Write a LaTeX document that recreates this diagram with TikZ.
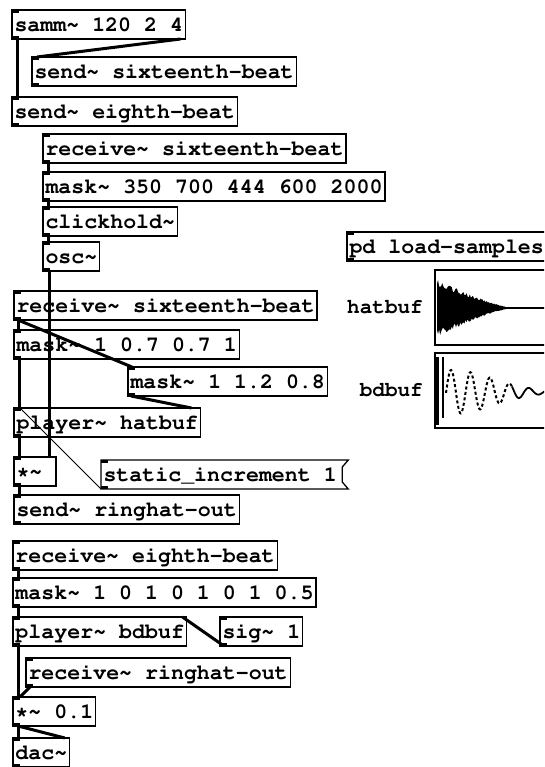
\documentclass[tikz,border=0pt]{standalone}
\usepackage[T1]{fontenc}
\usepackage{tikz}
\usetikzlibrary{positioning}
\definecolor{pdink}{RGB}{0,0,0}
\newcommand{\pdt}{\textasciitilde}
\newcommand{\pdboxfont}{\fontfamily{pcr}\fontseries{b}\fontsize{21.6}{24}\selectfont}
\newcommand{\pdlabelfont}{\fontfamily{pcr}\fontseries{b}\fontsize{21}{24}\selectfont}

\begin{document}
\begin{tikzpicture}[
    x=1pt, y=-1pt,
    obj/.style={rectangle, draw=pdink, line width=1.3pt, anchor=north west,
                font=\pdboxfont, inner xsep=2.5pt, inner ysep=0pt, outer sep=0pt,
                text height=17pt, text depth=3pt, minimum height=29pt,
                path picture={
                  \fill[pdink] (path picture bounding box.north west) rectangle ++(7pt,-3pt);
                  \fill[pdink] (path picture bounding box.south west) rectangle ++(7pt,3pt);}},
    msg/.style={obj, draw=none},
    wide/.style={text width=#1, align=left},
    graph/.style={rectangle, draw=pdink, line width=1.3pt, anchor=north west,
                  minimum width=125pt, minimum height=75pt, inner sep=0pt, outer sep=0pt},
    lbl/.style={font=\pdlabelfont, inner sep=0pt, text=pdink},
    sigw/.style={line width=3pt, color=pdink},
    ctlw/.style={line width=0.8pt, color=pdink}
  ]
    \useasboundingbox (0,0) rectangle (544,767);
    \clip (0,0) rectangle (544,767);

    \node[obj] (samm)     at (12,10)   {samm\pdt{} 120 2 4};
    \node[obj] (send16)   at (32,57)   {send\pdt{} sixteenth-beat};
    \node[obj] (send8)    at (12,97)   {send\pdt{} eighth-beat};
    \node[obj] (recv16)   at (43,134)  {receive\pdt{} sixteenth-beat};
    \node[obj] (freqmask) at (43,172)  {mask\pdt{} 350 700 444 600 2000};
    \node[obj] (click)    at (43,207)  {clickhold\pdt{}};
    \node[obj] (osc)      at (43,242)  {osc\pdt{}};
    \node[obj] (loader)   at (347,232) {pd load-samples};
    \node[obj] (hatrecv)  at (14,291)  {receive\pdt{} sixteenth-beat};
    \node[obj] (ampmask)  at (14,330)  {mask\pdt{} 1 0.7 0.7 1};
    \node[obj] (ratemask) at (128,367) {mask\pdt{} 1 1.2 0.8};
    \node[obj] (hatplay)  at (14,408)  {player\pdt{} hatbuf};
    \node[obj, wide=37pt] (ringmul) at (14,457) {*\pdt{}};
    \node[msg] (incr)     at (101,460) {static\_increment 1};
    \node[obj] (ringsend) at (14,495)  {send\pdt{} ringhat-out};
    \node[obj] (bdrecv)   at (13,541)  {receive\pdt{} eighth-beat};
    \node[obj] (bdmask)   at (13,578)  {mask\pdt{} 1 0 1 0 1 0 1 0.5};
    \node[obj] (bdplay)   at (13,617)  {player\pdt{} bdbuf};
    \node[obj] (rate)     at (220,617) {sig\pdt{} 1};
    \node[obj] (ringrecv) at (26,658)  {receive\pdt{} ringhat-out};
    \node[obj] (gain)     at (13,697)  {*\pdt{} 0.1};
    \node[obj] (dac)      at (13,738)  {dac\pdt{}};

    \draw[line width=1.3pt, pdink] (incr.north west) -- ([xshift=9pt]incr.north east)
      -- ([shift={(3pt,-7pt)}]incr.north east) -- ([shift={(3pt,7pt)}]incr.south east)
      -- ([xshift=9pt]incr.south east) -- (incr.south west) -- cycle;

    \draw[sigw] ([xshift=5pt]samm.south west) -- ([xshift=5pt]send8.north west);
    \draw[sigw] ([xshift=-5pt]samm.south east) -- ([xshift=5pt]send16.north west);
    \draw[sigw] ([xshift=5pt]recv16.south west) -- ([xshift=5pt]freqmask.north west);
    \draw[sigw] ([xshift=5pt]freqmask.south west) -- ([xshift=5pt]click.north west);
    \draw[sigw] ([xshift=5pt]click.south west) -- ([xshift=5pt]osc.north west);
    \draw[sigw] ([xshift=6pt]osc.south west) -- ([xshift=6pt]osc.south west |- ringmul.north);
    \draw[sigw] ([xshift=4pt]hatrecv.south west) -- ([xshift=4pt]ampmask.north west);
    \draw[sigw] ([xshift=4pt]hatrecv.south west) -- ([xshift=4pt]ratemask.north west);
    \draw[sigw] ([xshift=5pt]ampmask.south west) -- ([xshift=5pt]hatplay.north west);
    \draw[sigw] ([xshift=3pt]ratemask.south west) -- ([xshift=-9pt]hatplay.north east);
    \draw[ctlw] (incr.south west) -- ([xshift=6pt]hatplay.north west);
    \draw[sigw] ([xshift=5pt]hatplay.south west) -- ([xshift=5pt]ringmul.north west);
    \draw[sigw] ([xshift=5pt]ringmul.south west) -- ([xshift=5pt]ringsend.north west);
    \draw[sigw] ([xshift=5pt]bdrecv.south west) -- ([xshift=5pt]bdmask.north west);
    \draw[sigw] ([xshift=5pt]bdmask.south west) -- ([xshift=5pt]bdplay.north west);
    \draw[sigw] ([xshift=4pt]rate.south west) -- ([xshift=-4pt]bdplay.north east);
    \draw[sigw] ([xshift=5pt]bdplay.south west) -- ([xshift=5pt]gain.north west);
    \draw[sigw] ([xshift=4pt]ringrecv.south west) -- ([xshift=7pt]gain.north west);
    \draw[sigw] ([xshift=5pt]gain.south west) -- ([xshift=5pt]dac.north west);
    \draw[sigw] ([xshift=5pt]gain.south west) -- ([xshift=-5pt]dac.north east);

    \node[graph] (hatgraph) at (435,270) {};
    \node[graph, below=8pt of hatgraph] (bdgraph) {};
    \node[lbl, left=12pt of hatgraph] (hatlbl) {hatbuf};
    \node[lbl, left=12pt of bdgraph]  (bdlbl)  {bdbuf};

    \pgfmathsetseed{17}
    \fill[pdink] plot[domain=437:510, samples=70]
        (\x, {308 - 29*(1-(\x-437)/75)^1.3*(0.75+0.25*rnd)})
      -- plot[domain=510:437, samples=70]
        (\x, {308 + 29*(1-(\x-437)/75)^1.3*(0.75+0.25*rnd)}) -- cycle;
    \draw[pdink, line width=2pt] (506,308) -- (560,308);

    \fill[pdink] (436,357) rectangle (439,425);
    \fill[pdink] (441.5,357) rectangle (444,418);
    \draw[pdink, line width=2pt, dash pattern=on 3pt off 2.5pt]
      plot[domain=446:512, samples=90]
        (\x, {392 - 22*exp(-((\x-451)/60)*((\x-451)/60))*cos(18.4615*(\x-451))});
    \draw[pdink, line width=1.8pt]
      plot[domain=512:560, samples=50]
        (\x, {392 - 22*exp(-((\x-451)/60)*((\x-451)/60))*cos(18.4615*(\x-451))});
  \end{tikzpicture}
\end{document}
